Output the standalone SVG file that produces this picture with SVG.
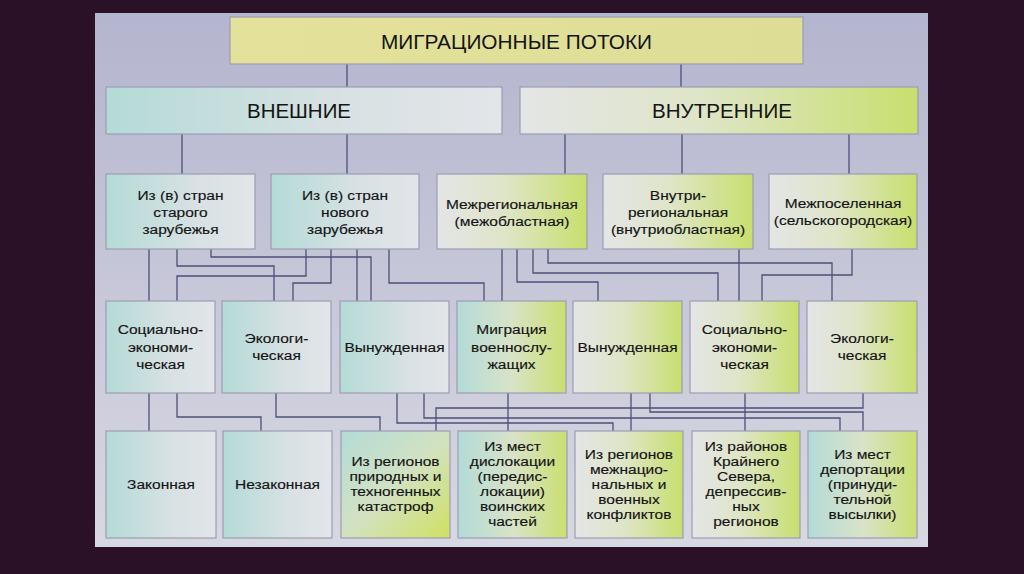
<svg xmlns="http://www.w3.org/2000/svg" width="1024" height="574" viewBox="0 0 1024 574">
<defs>
<linearGradient id="gPanel" x1="0" y1="0" x2="0" y2="1"><stop offset="0" stop-color="#b4b5ce"/><stop offset="1" stop-color="#d8d8e2"/></linearGradient>
<linearGradient id="gTop" x1="0" y1="0" x2="1" y2="0"><stop offset="0" stop-color="#e4e29a"/><stop offset="1" stop-color="#dedd96"/></linearGradient>
<linearGradient id="gTeal" x1="0" y1="0" x2="1" y2="0"><stop offset="0" stop-color="#b4dbd7"/><stop offset="0.6" stop-color="#d8e1e3"/><stop offset="1" stop-color="#e3e5e9"/></linearGradient>
<linearGradient id="gGreen" x1="0" y1="0" x2="1" y2="0"><stop offset="0" stop-color="#e4e5e6"/><stop offset="0.45" stop-color="#dfe5c8"/><stop offset="1" stop-color="#c8df6e"/></linearGradient>
<linearGradient id="gTG" x1="0" y1="0" x2="1" y2="0"><stop offset="0" stop-color="#b3dbd8"/><stop offset="0.5" stop-color="#d8e3c8"/><stop offset="1" stop-color="#cadf70"/></linearGradient>
<linearGradient id="gTGd" x1="0" y1="0" x2="1" y2="1"><stop offset="0" stop-color="#b3dbd8"/><stop offset="0.5" stop-color="#d2e2c2"/><stop offset="1" stop-color="#cfe060"/></linearGradient>
</defs>
<style>
.b{stroke:#9c9db4;stroke-width:1.2}
.t{font-family:"Liberation Sans",Arial,sans-serif;font-size:13.5px;fill:#141414;stroke:#141414;stroke-width:0.15;text-anchor:middle;transform-box:fill-box;transform-origin:center;transform:scaleX(1.15)}
.h{font-family:"Liberation Sans",Arial,sans-serif;font-size:21px;fill:#141414;text-anchor:middle}
.c{fill:none;stroke:#4e5078;stroke-width:1.3}
</style>
<rect x="0" y="0" width="1024" height="574" fill="#2a1127"/>
<rect x="95" y="13" width="833" height="534" fill="url(#gPanel)"/>

<g id="connectors" class="c">
<path d="M347 64V87M681 64V87"/>
<path d="M182 134V174M347 134V174M565 134V174M682 134V174M849 134V174"/>
<path d="M149 249V301M177 249V266H274V301M211 249V257H371V301M306 249V276H177V301M331 249V283H293V301M357 249V301M389 249V283H484V301M502 249V301M517 249V282H598V301M533 249V273H718V301M548 249V263H832V301M739 249V301M852 249V275H762V301"/>
<path d="M149 393V431M177 393V417H261V431M276 393V417H380V431M397 393V423H613V431M424 393V418H840V431M508 393V431M631 393V431M650 393V412H863V431M745 393V431M863 393V408H436V431"/>
</g>

<g id="n-top"><rect class="b" x="230" y="17" width="573" height="47" fill="url(#gTop)"/><text class="h" x="516.5" y="48.5" textLength="271" lengthAdjust="spacingAndGlyphs">МИГРАЦИОННЫЕ ПОТОКИ</text></g>
<g id="n-ext"><rect class="b" x="106" y="87" width="396" height="47" fill="url(#gTeal)"/><text class="h" x="299" y="118" textLength="104" lengthAdjust="spacingAndGlyphs">ВНЕШНИЕ</text></g>
<g id="n-int"><rect class="b" x="520" y="87" width="398" height="47" fill="url(#gGreen)"/><text class="h" x="722" y="118" textLength="140" lengthAdjust="spacingAndGlyphs">ВНУТРЕННИЕ</text></g>

<g id="n-old"><rect class="b" x="106" y="174" width="149" height="75" fill="url(#gTeal)"/><text class="t"><tspan x="180.5" y="200">Из (в) стран</tspan><tspan x="180.5" y="217">старого</tspan><tspan x="180.5" y="234">зарубежья</tspan></text></g>
<g id="n-new"><rect class="b" x="271" y="174" width="148" height="75" fill="url(#gTeal)"/><text class="t"><tspan x="345" y="200">Из (в) стран</tspan><tspan x="345" y="217">нового</tspan><tspan x="345" y="234">зарубежья</tspan></text></g>
<g id="n-interreg"><rect class="b" x="437" y="174" width="150" height="75" fill="url(#gGreen)"/><text class="t"><tspan x="512" y="209">Межрегиональная</tspan><tspan x="512" y="226">(межобластная)</tspan></text></g>
<g id="n-intrareg"><rect class="b" x="603" y="174" width="150" height="75" fill="url(#gGreen)"/><text class="t"><tspan x="678" y="200">Внутри-</tspan><tspan x="678" y="217">региональная</tspan><tspan x="678" y="234">(внутриобластная)</tspan></text></g>
<g id="n-settle"><rect class="b" x="769" y="174" width="148" height="75" fill="url(#gGreen)"/><text class="t"><tspan x="843" y="208">Межпоселенная</tspan><tspan x="843" y="225">(сельскогородская)</tspan></text></g>

<g id="n-soc1"><rect class="b" x="106" y="301" width="109" height="92" fill="url(#gTeal)"/><text class="t"><tspan x="160.5" y="334.5">Социально-</tspan><tspan x="160.5" y="352">экономи-</tspan><tspan x="160.5" y="369.5">ческая</tspan></text></g>
<g id="n-eco1"><rect class="b" x="222" y="301" width="109" height="92" fill="url(#gTeal)"/><text class="t"><tspan x="276.5" y="343">Экологи-</tspan><tspan x="276.5" y="360.5">ческая</tspan></text></g>
<g id="n-forced1"><rect class="b" x="340" y="301" width="109" height="92" fill="url(#gTeal)"/><text class="t" x="394.5" y="352">Вынужденная</text></g>
<g id="n-mil"><rect class="b" x="457" y="301" width="109" height="92" fill="url(#gTG)"/><text class="t"><tspan x="511.5" y="334.5">Миграция</tspan><tspan x="511.5" y="352">военнослу-</tspan><tspan x="511.5" y="369.5">жащих</tspan></text></g>
<g id="n-forced2"><rect class="b" x="573" y="301" width="109" height="92" fill="url(#gGreen)"/><text class="t" x="627.5" y="352">Вынужденная</text></g>
<g id="n-soc2"><rect class="b" x="690" y="301" width="109" height="92" fill="url(#gGreen)"/><text class="t"><tspan x="744.5" y="334.5">Социально-</tspan><tspan x="744.5" y="352">экономи-</tspan><tspan x="744.5" y="369.5">ческая</tspan></text></g>
<g id="n-eco2"><rect class="b" x="807" y="301" width="110" height="92" fill="url(#gGreen)"/><text class="t"><tspan x="862" y="343">Экологи-</tspan><tspan x="862" y="360.5">ческая</tspan></text></g>

<g id="n-legal"><rect class="b" x="106" y="431" width="110" height="107" fill="url(#gTeal)"/><text class="t" x="161" y="489">Законная</text></g>
<g id="n-illegal"><rect class="b" x="223" y="431" width="109" height="107" fill="url(#gTeal)"/><text class="t" x="277.5" y="489">Незаконная</text></g>
<g id="n-disaster"><rect class="b" x="341" y="431" width="109" height="107" fill="url(#gTGd)"/><text class="t"><tspan x="395.5" y="466.5">Из регионов</tspan><tspan x="395.5" y="481.5">природных и</tspan><tspan x="395.5" y="496.5">техногенных</tspan><tspan x="395.5" y="511.5">катастроф</tspan></text></g>
<g id="n-disloc"><rect class="b" x="458" y="431" width="109" height="107" fill="url(#gTG)"/><text class="t"><tspan x="512.5" y="451.5">Из мест</tspan><tspan x="512.5" y="466.5">дислокации</tspan><tspan x="512.5" y="481.5">(передис-</tspan><tspan x="512.5" y="496.5">локации)</tspan><tspan x="512.5" y="511.5">воинских</tspan><tspan x="512.5" y="526.5">частей</tspan></text></g>
<g id="n-conflict"><rect class="b" x="575" y="431" width="108" height="107" fill="url(#gGreen)"/><text class="t"><tspan x="629" y="459">Из регионов</tspan><tspan x="629" y="474">межнацио-</tspan><tspan x="629" y="489">нальных и</tspan><tspan x="629" y="504">военных</tspan><tspan x="629" y="519">конфликтов</tspan></text></g>
<g id="n-north"><rect class="b" x="692" y="431" width="108" height="107" fill="url(#gGreen)"/><text class="t"><tspan x="746" y="451.5">Из районов</tspan><tspan x="746" y="466.5">Крайнего</tspan><tspan x="746" y="481.5">Севера,</tspan><tspan x="746" y="496.5">депрессив-</tspan><tspan x="746" y="511.5">ных</tspan><tspan x="746" y="526.5">регионов</tspan></text></g>
<g id="n-deport"><rect class="b" x="808" y="431" width="109" height="107" fill="url(#gTG)"/><text class="t"><tspan x="862.5" y="459">Из мест</tspan><tspan x="862.5" y="474">депортации</tspan><tspan x="862.5" y="489">(принуди-</tspan><tspan x="862.5" y="504">тельной</tspan><tspan x="862.5" y="519">высылки)</tspan></text></g>
</svg>
